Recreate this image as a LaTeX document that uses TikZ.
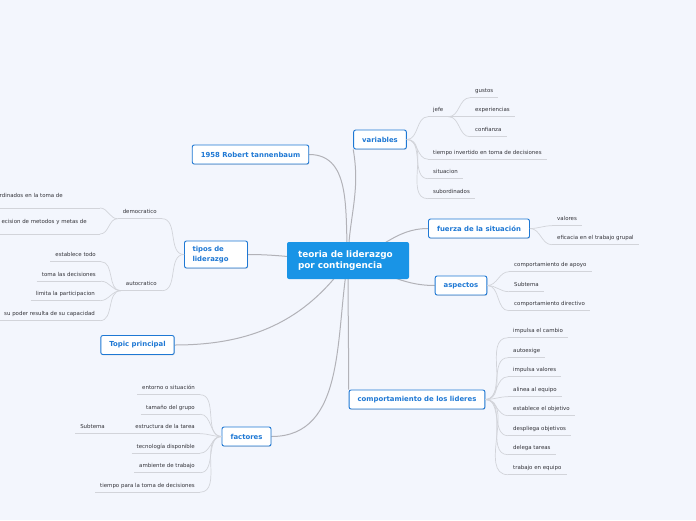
\documentclass[tikz,border=0pt]{standalone}
\usepackage{fontspec}
\setmainfont{DejaVu Sans}
\usetikzlibrary{backgrounds,shadows}

\definecolor{bgcol}{RGB}{243,246,253}
\definecolor{rootblue}{RGB}{25,148,230}
\definecolor{topicblue}{RGB}{30,120,212}
\definecolor{conngray}{RGB}{178,178,184}
\definecolor{linegray}{RGB}{210,212,218}
\definecolor{subtext}{RGB}{50,50,56}

\tikzset{
  root/.style={fill=rootblue,rounded corners=2pt,text=white,
    font=\fontsize{8.9}{11}\selectfont\bfseries,text width=100pt,align=left,
    inner xsep=11pt,minimum height=37pt},
  topic/.style={draw=topicblue,line width=.9pt,fill=white,rounded corners=2pt,
    text=topicblue,font=\fontsize{6.9}{9.5}\selectfont\bfseries,
    inner xsep=8.5pt,minimum height=19pt,
    drop shadow={shadow xshift=.5pt,shadow yshift=-.8pt,opacity=.25}},
  sub/.style={font=\fontsize{5.45}{6.5}\selectfont,text=subtext,
    inner xsep=5pt,inner ysep=3.5pt,text height=4pt,text depth=1.5pt},
  subr/.style={sub,anchor=base west},
  subl/.style={sub,anchor=base east},
  uline/.style={draw=linegray,line width=.7pt},
  sublink/.style={draw=linegray,line width=.7pt},
  link/.style={draw=conngray,line width=1pt}
}

\begin{document}
\begin{tikzpicture}[x=1pt,y=1pt]
\useasboundingbox (0,0) rectangle (696,-520);
\clip (0,0) rectangle (696,-520);

% central and main topics
\node[root] (root) at (348,-260.5) {teoria de liderazgo\\por contingencia};
\node[topic] (rob) at (250.5,-154.5) {1958 Robert tannenbaum};
\node[topic] (var) at (380,-139.5) {variables};
\node[topic,text width=47pt,align=left,minimum height=27pt,inner xsep=8pt] (tipos) at (216,-254.5) {tipos de\\liderazgo};
\node[topic] (topic) at (137.5,-345) {Topic principal};
\node[topic] (fac) at (246.5,-436.5) {factores};
\node[topic] (fuerza) at (479,-228.5) {fuerza de la situación};
\node[topic] (asp) at (461,-285.5) {aspectos};
\node[topic] (comp) at (417,-399.5) {comportamiento de los lideres};

% variables
\node[subr] (jefe) at (428,-111.5) {jefe};
\node[subr] (gustos) at (470,-92.5) {gustos};
\node[subr] (exper) at (470,-111.5) {experiencias};
\node[subr] (confianza) at (470,-131.5) {confianza};
\node[subr] (tiempo) at (428,-154) {tiempo invertido en toma de decisiones};
\node[subr] (situacion) at (428,-173.5) {situacion};
\node[subr] (subord) at (428,-193.5) {subordinados};

% fuerza de la situacion
\node[subr] (valores) at (552,-220.5) {valores};
\node[subr] (eficacia) at (552,-239.5) {eficacia en el trabajo grupal};

% aspectos
\node[subr] (apoyo) at (509,-266.5) {comportamiento de apoyo};
\node[subr] (subtA) at (509,-286.5) {Subtema};
\node[subr] (directivo) at (509,-305.5) {comportamiento directivo};

% comportamiento de los lideres
\node[subr] (cambio) at (508,-332.5) {impulsa el cambio};
\node[subr] (autoexige) at (508,-352.5) {autoexige};
\node[subr] (impval) at (508,-371.5) {impulsa valores};
\node[subr] (alinea) at (508,-391.5) {alinea al equipo};
\node[subr] (objetivo) at (508,-410.5) {establece el objetivo};
\node[subr] (despliega) at (508,-430.5) {despliega objetivos};
\node[subr] (delega) at (508,-449.5) {delega tareas};
\node[subr] (trabajo) at (508,-469.5) {trabajo en equipo};

% tipos de liderazgo
\node[subl] (dem) at (162,-213.5) {democratico};
\node[subl] (auto) at (162,-285.5) {autocratico};
\node[subl] (dem1) at (68,-197.5) {rdinados en la toma de};
\node[subl] (dem2) at (92,-223.5) {ecision de metodos y metas de};
\coordinate (dem1u) at (100,-208);
\coordinate (dem2u) at (100,-234);
\node[subl] (todo) at (101,-256.5) {establece todo};
\node[subl] (toma) at (101,-276) {toma las decisiones};
\node[subl] (limita) at (100,-295.5) {limita la participacion};
\node[subl] (poder) at (100,-315.5) {su poder resulta de su capacidad};

% factores
\node[subl] (entorno) at (200,-389.5) {entorno o situación};
\node[subl] (tamano) at (200,-409) {tamaño del grupo};
\node[subl] (estructura) at (200,-428.5) {estructura de la tarea};
\node[subl] (tecno) at (200,-448) {tecnología disponible};
\node[subl] (ambiente) at (200,-467.5) {ambiente de trabajo};
\node[subl] (tiempod) at (200,-487) {tiempo para la toma de decisiones};
\node[subl] (subtB) at (110,-428.5) {Subtema};

% underlines
\foreach \n in {jefe,gustos,exper,confianza,tiempo,situacion,subord,valores,eficacia,
  apoyo,subtA,directivo,cambio,autoexige,impval,alinea,objetivo,despliega,delega,trabajo,
  dem,auto,todo,toma,limita,poder,entorno,tamano,estructura,tecno,ambiente,tiempod,subtB}
  \draw[uline] (\n.south west) -- (\n.south east);
\draw[uline] (dem1u) -- ++(-110,0);
\draw[uline] (dem2u) -- ++(-110,0);

% sub connectors
\foreach \c in {jefe,tiempo,situacion,subord}
  \draw[sublink] (var.east) to[out=0,in=180] (\c.south west);
\foreach \c in {gustos,exper,confianza}
  \draw[sublink] (jefe.south east) to[out=0,in=180] (\c.south west);
\foreach \c in {valores,eficacia}
  \draw[sublink] (fuerza.east) to[out=0,in=180] (\c.south west);
\foreach \c in {apoyo,subtA,directivo}
  \draw[sublink] (asp.east) to[out=0,in=180] (\c.south west);
\foreach \c in {cambio,autoexige,impval,alinea,objetivo,despliega,delega,trabajo}
  \draw[sublink] (comp.east) to[out=0,in=180] (\c.south west);
\foreach \c in {dem,auto}
  \draw[sublink] (tipos.west) to[out=180,in=0] (\c.south east);
\foreach \c in {dem1u,dem2u}
  \draw[sublink] (dem.south west) to[out=180,in=0] (\c);
\foreach \c in {todo,toma,limita,poder}
  \draw[sublink] (auto.south west) to[out=180,in=0] (\c.south east);
\foreach \c in {entorno,tamano,estructura,tecno,ambiente,tiempod}
  \draw[sublink] (fac.west) to[out=180,in=0] (\c.south east);
\draw[sublink] (estructura.south west) -- (subtB.south east);

% main connectors
\begin{scope}[on background layer]
\fill[bgcol] (0,0) rectangle (696,-520);
\draw[link] (root.center) to[out=95,in=0] (rob.east);
\draw[link] (root.center) to[out=89,in=-80] (var.south west);
\draw[link] (root.center) to[out=180,in=0] (tipos.east);
\draw[link] (root.center) to[out=235,in=0] (topic.east);
\draw[link] (root.center) to[out=260,in=0] (fac.east);
\draw[link] (root.center) to[out=-90,in=90] (comp.north west);
\draw[link] (root.center) to[out=15,in=180] (fuerza.west);
\draw[link] (root.center) to[out=-15,in=180] (asp.west);
\end{scope}
\end{tikzpicture}
\end{document}
